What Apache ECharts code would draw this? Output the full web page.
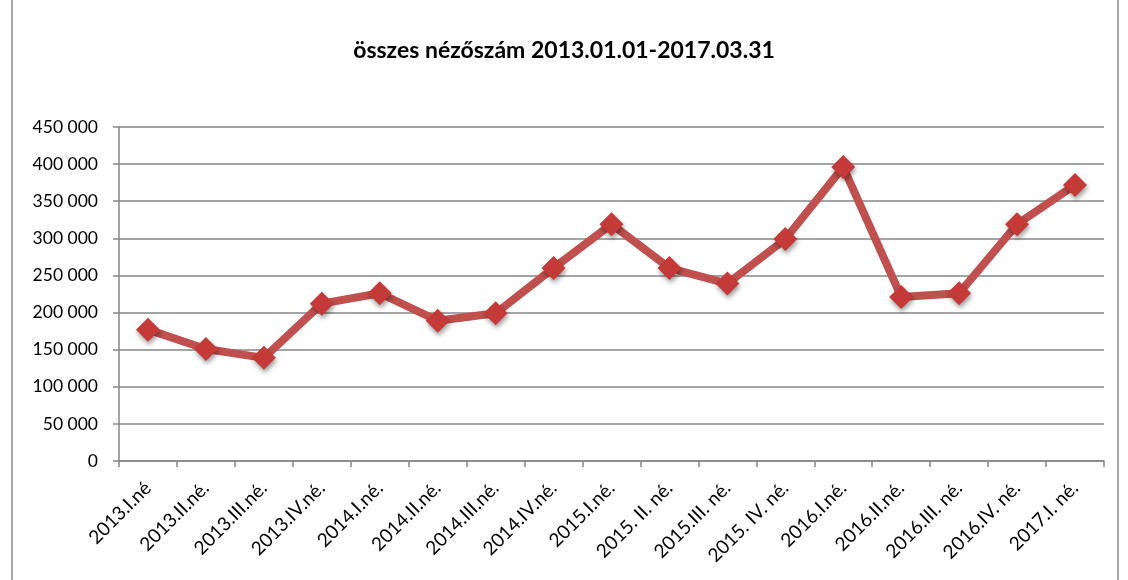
<!DOCTYPE html>
<html><head><meta charset="utf-8">
<script src="https://cdn.jsdelivr.net/npm/echarts@6/dist/echarts.min.js"></script>
<style>html,body{margin:0;padding:0;background:#fff}#c{width:1128px;height:580px}</style>
</head><body><div id="c"></div>
<script>
const categories = ["2013.I.né","2013.II.né.","2013.III.né.","2013.IV.né.","2014.I.né.","2014.II.né.","2014.III.né.","2014.IV.né.","2015.I.né.","2015. II. né.","2015.III. né.","2015. IV. né.","2016.I.né.","2016.II.né.","2016.III. né.","2016.IV. né.","2017.I. né."];
const viewers = [177000,151000,139000,212000,226000,189000,199000,260000,319000,260000,239000,299000,396000,221000,226000,319000,372000];
const titleText = "összes nézőszám 2013.01.01-2017.03.31";
const font = "Lato, 'Open Sans', sans-serif";
const chart = echarts.init(document.getElementById('c'));
chart.setOption({
  animation:false,
  title:{text:titleText,left:'center',top:34,textStyle:{fontFamily:font,fontSize:23,fontWeight:'bold',color:'#000'}},
  graphic:[{type:'rect',shape:{x:12,y:-2,width:1106,height:600},style:{fill:'none',stroke:'#8c8c8c',lineWidth:1.5},silent:true}],
  grid:{left:119,right:24,top:127,bottom:119},
  xAxis:{type:'category',data:categories,boundaryGap:true,
    axisLine:{lineStyle:{color:'#868686',width:1.5}},
    axisTick:{show:true,length:6,alignWithLabel:false,lineStyle:{color:'#868686',width:1.5}},
    axisLabel:{rotate:45,interval:0,fontFamily:font,fontSize:19,color:'#000',margin:24}},
  yAxis:{type:'value',min:0,max:450000,interval:50000,
    axisLine:{show:true,lineStyle:{color:'#868686',width:1.5}},
    axisTick:{show:true,length:6,lineStyle:{color:'#868686',width:1.5}},
    splitLine:{lineStyle:{color:'#868686',width:1.5}},
    axisLabel:{fontFamily:font,fontSize:17.5,color:'#000',margin:21,
      formatter:v=>String(v).replace(/\B(?=(\d{3})+(?!\d))/g,' ')}},
  series:[{type:'line',data:viewers,symbol:'diamond',symbolSize:24,
    lineStyle:{color:'#c0504d',width:8},
    itemStyle:{color:'#c33a38',shadowBlur:5,shadowColor:'rgba(0,0,0,0.4)',shadowOffsetX:1,shadowOffsetY:3},
    z:3}]
});
</script></body></html>
